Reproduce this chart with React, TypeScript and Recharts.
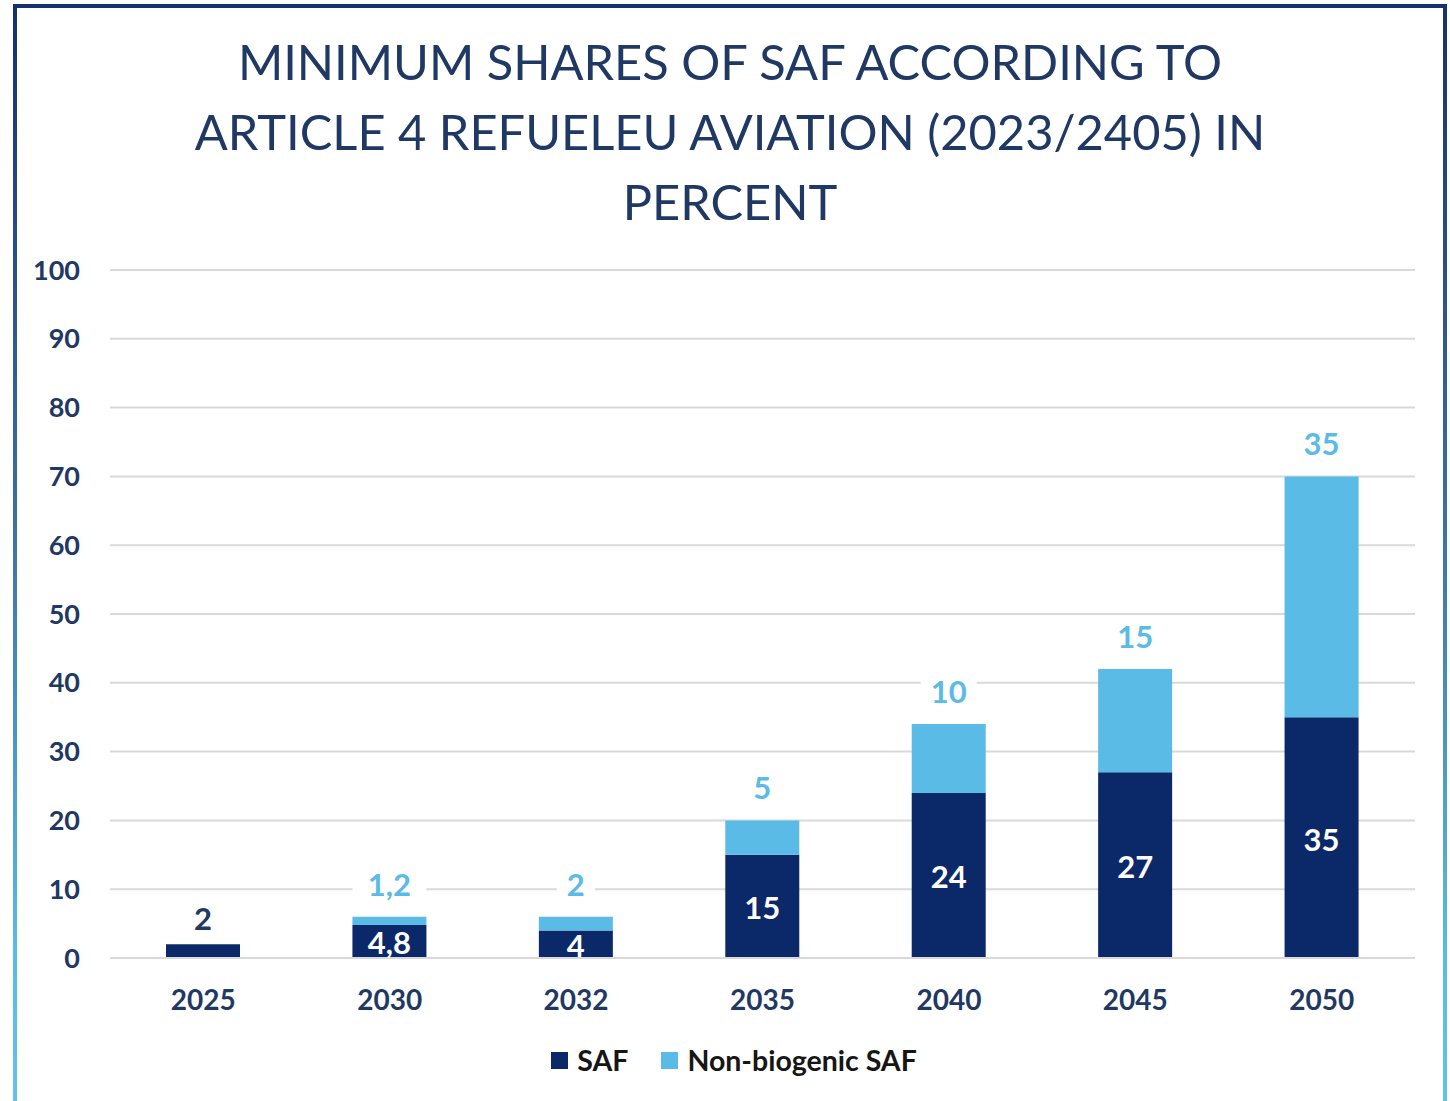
import { BarChart, Bar, XAxis, YAxis, CartesianGrid, Legend, LabelList } from 'recharts'

const years = ['2025', '2030', '2032', '2035', '2040', '2045', '2050']
const safShare = [2, 4.8, 4, 15, 24, 27, 35]
const nonBiogenicShare = [null, 1.2, 2, 5, 10, 15, 35]
const yTicks = [0, 10, 20, 30, 40, 50, 60, 70, 80, 90, 100]

const data = years.map((year, i) => ({
  year,
  saf: safShare[i],
  nonBio: nonBiogenicShare[i],
}))

const NAVY = '#0b2868'
const SKY = '#5bbbe7'
const TEXT = '#1f3864'
const FONT = 'Lato, "Noto Sans", sans-serif'

const fmt = (v: number) => String(v).replace('.', ',')

function SafLabel(props: any) {
  const { x, y, width, height, value } = props
  if (value == null) return null
  const cx = x + width / 2
  if (value < 3) {
    return (
      <text x={cx} y={y - 26} textAnchor="middle" dominantBaseline="central"
        fill={TEXT} fontSize={31} fontWeight={700} fontFamily={FONT}>
        {fmt(value)}
      </text>
    )
  }
  return (
    <text x={cx} y={y + height / 2 + 1} textAnchor="middle" dominantBaseline="central"
      fill="#fff" fontSize={31} fontWeight={700} fontFamily={FONT}>
      {fmt(value)}
    </text>
  )
}

function NonBioLabel(props: any) {
  const { x, y, width, value } = props
  if (value == null) return null
  const cx = x + width / 2
  const label = fmt(value)
  const w = label.length * 18 + 20
  return (
    <g>
      <rect x={cx - w / 2} y={y - 54} width={w} height={40} fill="#fff" />
      <text x={cx} y={y - 33} textAnchor="middle" dominantBaseline="central"
        fill={SKY} fontSize={31} fontWeight={700} fontFamily={FONT}>
        {label}
      </text>
    </g>
  )
}

function LegendContent() {
  const items = [
    { name: 'SAF', color: NAVY },
    { name: 'Non-biogenic SAF', color: SKY },
  ]
  return (
    <div style={{ display: 'flex', justifyContent: 'center', gap: 33, fontFamily: FONT, marginLeft: 18 }}>
      {items.map((it) => (
        <div key={it.name} style={{ display: 'flex', alignItems: 'center', gap: 9 }}>
          <span style={{ width: 17, height: 17, background: it.color, display: 'inline-block' }} />
          <span style={{ fontSize: 28.5, fontWeight: 700, color: '#161616' }}>{it.name}</span>
        </div>
      ))}
    </div>
  )
}

export default function App() {
  return (
    <div style={{ position: 'absolute', left: 0, top: 0, width: 1450, height: 1101, background: '#fff', overflow: 'hidden' }}>
      <div
        style={{
          position: 'absolute', left: 13, top: 4, width: 1434, height: 1120,
          background: 'linear-gradient(to bottom, #15306f 0%, #3a6fa0 45%, #5bbbe7 85%, #63c3ee 100%)',
        }}
      >
        <div style={{ position: 'absolute', left: 4, top: 4, right: 4, bottom: 0, background: '#fff' }} />
      </div>
      <div
        style={{
          position: 'absolute', left: 0, top: 26, width: 1460, textAlign: 'center',
          fontFamily: FONT, fontSize: 48.8, lineHeight: '70px', color: TEXT,
        }}
      >
        MINIMUM SHARES OF SAF ACCORDING TO
        <br />
        ARTICLE 4 REFUELEU AVIATION (2023/2405) IN
        <br />
        PERCENT
      </div>
      <div style={{ position: 'absolute', left: 0, top: 0 }}>
        <BarChart width={1450} height={1101} data={data} barSize={74}
          margin={{ top: 270, right: 35, left: 0, bottom: 83 }}>
          <CartesianGrid vertical={false} stroke="#d9d9d9" strokeWidth={2} />
          <XAxis dataKey="year" height={60} tickLine={false}
            axisLine={{ stroke: '#d9d9d9', strokeWidth: 2 }}
            tick={{ fill: TEXT, fontSize: 28, fontWeight: 700, fontFamily: FONT }} tickMargin={26} />
          <YAxis width={110} domain={[0, 100]} ticks={yTicks} axisLine={false} tickLine={false}
            tickSize={0} tickMargin={30} interval={0}
            tick={{ fill: TEXT, fontSize: 27, fontWeight: 700, fontFamily: FONT }} />
          <Legend layout="horizontal" verticalAlign="middle" align="center"
            content={<LegendContent />}
            wrapperStyle={{ top: 1043, left: 0, width: 1450 }} />
          <Bar dataKey="saf" name="SAF" stackId="a" fill={NAVY} isAnimationActive={false}>
            <LabelList dataKey="saf" content={<SafLabel />} />
          </Bar>
          <Bar dataKey="nonBio" name="Non-biogenic SAF" stackId="a" fill={SKY} isAnimationActive={false}>
            <LabelList dataKey="nonBio" content={<NonBioLabel />} />
          </Bar>
        </BarChart>
      </div>
    </div>
  )
}
